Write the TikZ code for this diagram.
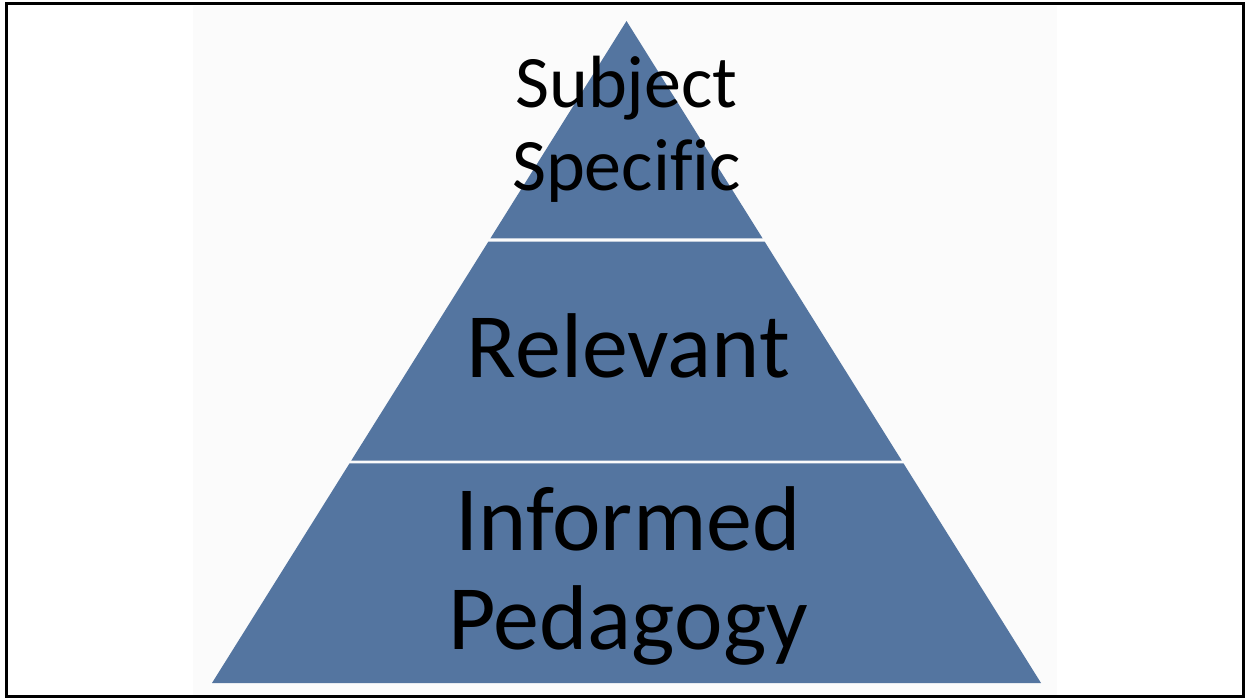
\documentclass[tikz,border=0pt]{standalone}
\usepackage{fontspec}
\setmainfont[Ligatures=NoCommon]{Carlito}
\usetikzlibrary{calc}
\definecolor{tierblue}{RGB}{84,117,160}
\definecolor{slidegray}{RGB}{251,251,251}
\tikzset{
  tier/.style={fill=tierblue},
  biglabel/.style={anchor=base, inner sep=0pt, font=\fontsize{92}{99}\selectfont},
  toplabel/.style={anchor=base, inner sep=0pt, font=\fontsize{74}{82}\selectfont}
}
\begin{document}
\begin{tikzpicture}[x=1pt, y=-1pt]
    \useasboundingbox (0,0) rectangle (1249,698);
    % slide frame and picture background
    \fill[white] (0,0) rectangle (1249,698);
    \fill[slidegray] (193,6) rectangle (1057,695);
    \draw[line width=3pt] (6.5,3.5) rectangle (1243.5,696.5);

    % pyramid corners
    \coordinate (apex) at (626.5,21);
    \coordinate (bl) at (212,683);
    \coordinate (br) at (1041,683);

    % three tiers
    \fill[tier] (apex) -- ($(apex)!0.3285!(bl)$) -- ($(apex)!0.3285!(br)$) -- cycle;
    \fill[tier] ($(apex)!0.3331!(bl)$) -- ($(apex)!0.6639!(bl)$) -- ($(apex)!0.6639!(br)$) -- ($(apex)!0.3331!(br)$) -- cycle;
    \fill[tier] ($(apex)!0.6684!(bl)$) -- (bl) -- (br) -- ($(apex)!0.6684!(br)$) -- cycle;

    % labels
    \node[toplabel] (subject) at (626.5,108) {Subject};
    \node[toplabel] (specific) at (626.5,190) {Specific};
    \node[biglabel] (relevant) at (628.5,377) {Relevant};
    \node[biglabel] (informed) at (628,550) {Informed};
    \node[biglabel] (pedagogy) at (628,649) {Pedagogy};
\end{tikzpicture}
\end{document}
